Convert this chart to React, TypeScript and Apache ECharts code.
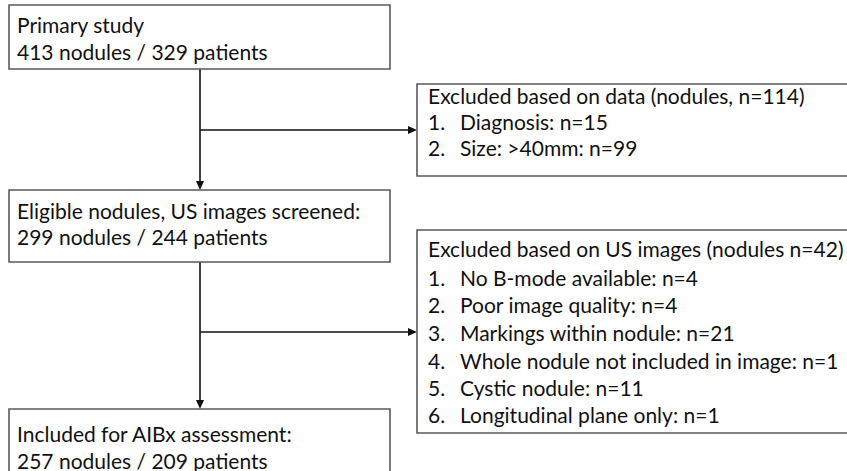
import React, { useEffect, useRef } from "react";
import * as echarts from "echarts";

const mainBoxLines: string[][] = [
  ["Primary study", "413 nodules / 329 patients"],
  ["Eligible nodules, US images screened:", "299 nodules / 244 patients"],
  ["Included for AIBx assessment:", "257 nodules / 209 patients"],
];

const dataExclusionTitle = "Excluded based on data (nodules, n=114)";
const dataExclusions: string[] = ["Diagnosis: n=15", "Size: >40mm: n=99"];

const usExclusionTitle = "Excluded based on US images (nodules n=42)";
const usExclusions: string[] = [
  "No B-mode available: n=4",
  "Poor image quality: n=4",
  "Markings within nodule: n=21",
  "Whole nodule not included in image: n=1",
  "Cystic nodule: n=11",
  "Longitudinal plane only: n=1",
];

const FONT_FAMILY = "Lato, 'Open Sans', 'Noto Sans', sans-serif";
const FONT = `21px ${FONT_FAMILY}`;
const BORDER = "#5a5a5a";

function textEl(text: string, x: number, y: number): any {
  return {
    type: "text",
    x,
    y,
    style: {
      text,
      font: FONT,
      fill: "#111",
      textAlign: "left",
      textVerticalAlign: "middle",
    },
  };
}

function rectEl(x: number, y: number, w: number, h: number): any {
  return {
    type: "rect",
    shape: { x, y, width: w, height: h },
    style: { fill: "#fff", stroke: BORDER, lineWidth: 1.6 },
  };
}

function lineEl(x1: number, y1: number, x2: number, y2: number): any {
  return {
    type: "line",
    shape: { x1, y1, x2, y2 },
    style: { stroke: "#111", lineWidth: 1.6 },
  };
}

function arrowDown(x: number, y: number): any {
  return {
    type: "polygon",
    shape: { points: [[x - 4, y - 9], [x + 4, y - 9], [x, y]] },
    style: { fill: "#111" },
  };
}

function arrowRight(x: number, y: number): any {
  return {
    type: "polygon",
    shape: { points: [[x - 9, y - 4], [x - 9, y + 4], [x, y]] },
    style: { fill: "#111" },
  };
}

export default function App() {
  const ref = useRef<HTMLDivElement>(null);

  useEffect(() => {
    if (!ref.current) return;
    const chart = echarts.init(ref.current, undefined, { renderer: "svg" });

    const mainBoxes = [
      { x: 9, y: 5, w: 381, h: 64, lineY: [24, 51] },
      { x: 9, y: 190, w: 381, h: 72, lineY: [210, 236] },
      { x: 9, y: 409, w: 381, h: 80, lineY: [433, 460] },
    ];

    const elements: any[] = [];

    // connectors
    elements.push(lineEl(200, 69, 200, 186));
    elements.push(arrowDown(200, 190));
    elements.push(lineEl(200, 262, 200, 405));
    elements.push(arrowDown(200, 409));
    elements.push(lineEl(200, 130, 412, 130));
    elements.push(arrowRight(417, 130));
    elements.push(lineEl(200, 332, 412, 332));
    elements.push(arrowRight(417, 332));

    mainBoxes.forEach((b, i) => {
      elements.push(rectEl(b.x, b.y, b.w, b.h));
      mainBoxLines[i].forEach((t, j) => elements.push(textEl(t, 17, b.lineY[j])));
    });

    // data exclusion box
    elements.push(rectEl(417, 84, 450, 92));
    elements.push(textEl(dataExclusionTitle, 428, 95));
    const dataY = [121, 147];
    dataExclusions.forEach((t, i) => {
      elements.push(textEl(`${i + 1}.`, 428, dataY[i]));
      elements.push(textEl(t, 460, dataY[i]));
    });

    // US exclusion box
    elements.push(rectEl(417, 230, 450, 203));
    elements.push(textEl(usExclusionTitle, 428, 248));
    const usY = [277, 304, 332, 360, 387, 414];
    usExclusions.forEach((t, i) => {
      elements.push(textEl(`${i + 1}.`, 428, usY[i]));
      elements.push(textEl(t, 460, usY[i]));
    });

    chart.setOption({
      animation: false,
      backgroundColor: "#ffffff",
      graphic: { elements },
    });

    return () => chart.dispose();
  }, []);

  return (
    <div
      ref={ref}
      style={{ position: "fixed", left: 0, top: 0, width: 847, height: 471, background: "#fff" }}
    />
  );
}
